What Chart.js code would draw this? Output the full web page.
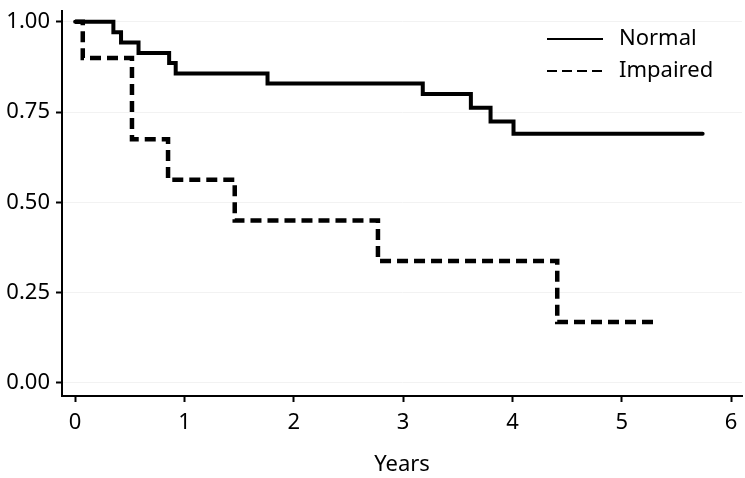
<!DOCTYPE html>
<html>
<head>
<meta charset="utf-8">
<script src="https://cdn.jsdelivr.net/npm/chart.js@4/dist/chart.umd.min.js"></script>
<style>
  html, body { margin: 0; padding: 0; background: #fff; }
</style>
</head>
<body>
<canvas id="kmChart" width="745" height="478"></canvas>
<script>
// survival curves (Kaplan-Meier)
const normalTimes = [0, 0.35, 0.42, 0.58, 0.86, 0.92, 1.76, 3.18, 3.62, 3.80, 4.01, 5.74];
const normalSurv = [1, 0.971, 0.943, 0.914, 0.886, 0.857, 0.829, 0.800, 0.762, 0.724, 0.690, 0.690];

const impairedTimes = [0, 0.07, 0.52, 0.85, 1.46, 2.77, 4.41, 5.33];
const impairedSurv = [1, 0.900, 0.675, 0.563, 0.450, 0.338, 0.169, 0.169];

const xTicks = [0, 1, 2, 3, 4, 5, 6];
const yTicks = [0, 0.25, 0.5, 0.75, 1];

const FONT = '"Noto Sans", "Open Sans", sans-serif';

const toPoints = (xs, ys) => xs.map((x, i) => ({ x: x, y: ys[i] }));

// legend drawn inside the plot, top right, with plain line samples
const lineLegend = {
  id: 'lineLegend',
  afterDraw(chart) {
    const ctx = chart.ctx;
    ctx.save();
    chart.data.datasets.forEach((ds, i) => {
      const y = 39 + i * 32;
      ctx.beginPath();
      ctx.setLineDash(ds.legendDash || []);
      ctx.lineWidth = 2;
      ctx.strokeStyle = '#000';
      ctx.moveTo(547, y);
      ctx.lineTo(603, y);
      ctx.stroke();
      ctx.setLineDash([]);
      ctx.fillStyle = '#000';
      ctx.font = '22px ' + FONT;
      ctx.textBaseline = 'middle';
      ctx.fillText(ds.label, 619, y);
    });
    ctx.restore();
  }
};

const ctx = document.getElementById('kmChart').getContext('2d');
new Chart(ctx, {
  type: 'line',
  data: {
    datasets: [{
      label: 'Normal',
      data: toPoints(normalTimes, normalSurv),
      borderColor: '#000',
      borderWidth: 4,
      stepped: true,
      pointRadius: 0,
      borderCapStyle: 'round',
      fill: false
    }, {
      label: 'Impaired',
      data: toPoints(impairedTimes, impairedSurv),
      borderColor: '#000',
      borderWidth: 4.5,
      borderDash: [11, 6],
      legendDash: [10, 5],
      stepped: true,
      pointRadius: 0,
      fill: false
    }]
  },
  options: {
    responsive: false,
    animation: false,
    layout: { padding: { top: 11, right: 3, left: 0, bottom: 0 } },
    plugins: {
      legend: { display: false },
      tooltip: { enabled: false }
    },
    scales: {
      x: {
        type: 'linear',
        min: -0.12,
        max: 6.1,
        afterBuildTicks: scale => { scale.ticks = xTicks.map(v => ({ value: v })); },
        afterFit: scale => { scale.height = 82; scale.paddingLeft = 0; scale.paddingRight = 0; },
        grid: { drawOnChartArea: false, tickColor: '#000', tickLength: 6, tickWidth: 2 },
        border: { color: '#000', width: 2 },
        ticks: { color: '#000', font: { family: FONT, size: 22 }, padding: 8, maxRotation: 0 },
        title: { display: true, text: 'Years', color: '#000', font: { family: FONT, size: 22 }, padding: { top: 10, bottom: 0 } }
      },
      y: {
        min: -0.036,
        max: 1.03,
        afterBuildTicks: scale => { scale.ticks = yTicks.map(v => ({ value: v })); },
        afterFit: scale => { scale.width = 62; scale.paddingTop = 0; scale.paddingBottom = 0; },
        grid: { color: '#f2f2f2', lineWidth: 1, tickColor: '#000', tickLength: 6, tickWidth: 2 },
        border: { color: '#000', width: 2 },
        ticks: { color: '#000', font: { family: FONT, size: 22 }, padding: 6, callback: v => v.toFixed(2) }
      }
    }
  },
  plugins: [lineLegend]
});
</script>
</body>
</html>
